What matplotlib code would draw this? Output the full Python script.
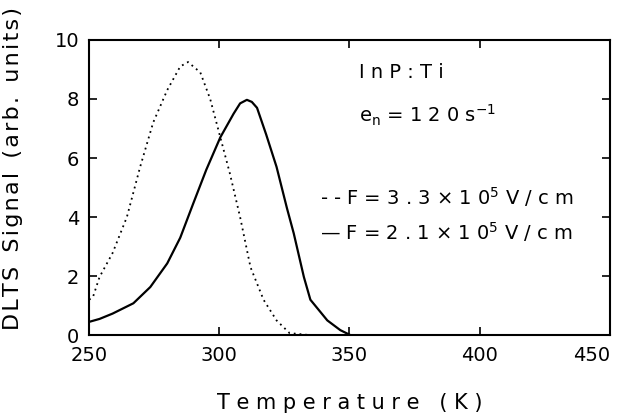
import matplotlib.pyplot as plt

plt.rcParams['xtick.direction'] = 'in'
plt.rcParams['ytick.direction'] = 'in'
plt.rcParams['font.family'] = ['DejaVu Sans']

# dotted curve, F = 3.3e5 V/cm
T_high = [250, 251.5, 254, 259, 264.5, 269.6, 274.6, 280, 285, 288, 292.7, 296.5,
          300.4, 304, 308, 312, 317, 322, 327, 335, 345, 359]
S_high = [1.2, 1.3, 1.97, 2.78, 4.0, 5.7, 7.2, 8.3, 9.1, 9.25, 8.9, 8.0,
          6.7, 5.5, 4.0, 2.3, 1.2, 0.5, 0.07, 0.0, 0.0, 0.0]

# solid curve, F = 2.1e5 V/cm
T_low = [250, 254, 259, 267, 273.5, 280, 285, 290, 295, 300.4, 305.5, 308, 310.6,
         312.5, 314.5, 318, 322, 326, 328.6, 332.5, 335, 341.5, 346.5, 350.4]
S_low = [0.45, 0.55, 0.73, 1.08, 1.63, 2.43, 3.3, 4.46, 5.6, 6.7, 7.5, 7.85, 7.97,
         7.9, 7.7, 6.8, 5.7, 4.3, 3.45, 1.97, 1.2, 0.5, 0.17, 0.0]

xticks = [250, 300, 350, 400, 450]
yticks = [0, 2, 4, 6, 8, 10]

SUP5 = r"$^{\mathregular{5}}$"
HS = "\u200a"  # hair space for letter spacing

fig = plt.figure(figsize=(6.19, 4.2), dpi=100)
ax = fig.add_axes([0.144, 0.202, 0.841, 0.703])

ax.plot(T_high, S_high, color='k', linestyle=(0, (1, 2.2)), linewidth=1.3)
ax.plot(T_low, S_low, color='k', linestyle='-', linewidth=1.6)

ax.set_xlim(250, 450)
ax.set_ylim(0, 10)
ax.set_xticks(xticks)
ax.set_yticks(yticks)
ax.tick_params(labelsize=14, length=6, width=1.2, top=True, right=True)
ax.tick_params(axis='x', pad=8)
ax.tick_params(axis='y', pad=7)
ax.get_xticklabels()[-1].set_horizontalalignment('right')
for s in ax.spines.values():
    s.set_linewidth(1.5)

ax.set_xlabel("T e m p e r a t u r e   ( K )", fontsize=15, labelpad=20)
ylab = "  ".join(HS.join(w) for w in "DLTS Signal (arb. units)".split())
ax.set_ylabel(ylab, fontsize=16)
ax.yaxis.set_label_coords(-0.128, 0.565)

ax.text(353.8, 8.9, "I n P : T i", fontsize=14, va='center')
ax.text(353.8, 7.45, r"e$_\mathregular{n}$ = 1 2 0 s$^{\mathregular{-1}}$", fontsize=14, va='center')
ax.text(338.8, 4.68, "- - F = 3 . 3 × 1 0" + SUP5 + " V / c m", fontsize=14, va='center')
ax.text(338.8, 3.5, "— F = 2 . 1 × 1 0" + SUP5 + " V / c m", fontsize=14, va='center')

plt.savefig("out.png", dpi=100)
